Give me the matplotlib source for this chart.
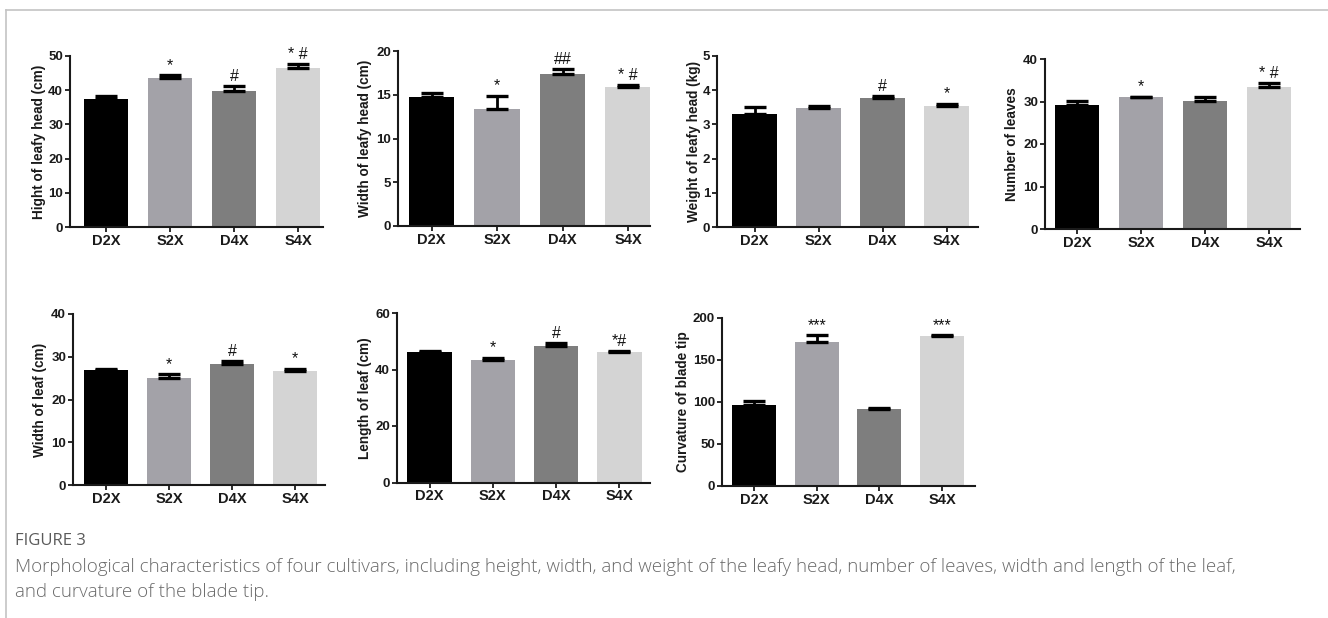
import matplotlib
matplotlib.use("Agg")
import matplotlib.pyplot as plt
from matplotlib.lines import Line2D

# ---------------- data ----------------
categories = ["D2X", "S2X", "D4X", "S4X"]

height_head = [37.3, 43.6, 39.9, 46.6]
height_head_err = [0.9, 0.7, 1.2, 1.0]
height_head_sig = ["", "*", "#", "* #"]

width_head = [14.7, 13.4, 17.4, 15.9]
width_head_err = [0.55, 1.5, 0.55, 0.25]
width_head_sig = ["", "*", "##", "* #"]

weight_head = [3.30, 3.47, 3.78, 3.53]
weight_head_err = [0.21, 0.08, 0.06, 0.08]
weight_head_sig = ["", "", "#", "*"]

num_leaves = [29.2, 31.1, 30.2, 33.3]
num_leaves_err = [0.9, 0.05, 0.9, 1.0]
num_leaves_sig = ["", "*", "", "* #"]

width_leaf = [26.9, 25.1, 28.4, 26.7]
width_leaf_err = [0.3, 0.8, 0.5, 0.5]
width_leaf_sig = ["", "*", "#", "*"]

length_leaf = [46.2, 43.3, 48.3, 46.2]
length_leaf_err = [0.35, 0.9, 1.0, 0.35]
length_leaf_sig = ["", "*", "#", "*#"]

curvature = [96.5, 171.0, 92.0, 178.0]
curvature_err = [4.5, 9.0, 0.8, 2.0]
curvature_sig = ["", "***", "", "***"]

ylabels = ["Hight of leafy head (cm)", "Width of leafy head (cm)",
           "Weight of leafy head (kg)", "Number of leaves",
           "Width of leaf (cm)", "Length of leaf (cm)", "Curvature of blade tip"]

bar_colors = ["#000000", "#a3a2a8", "#7e7e7e", "#d4d4d4"]

# ---------------- layout (pixels) ----------------
W, H = 1328, 618
plt.rcParams["font.family"] = ["Liberation Sans", "DejaVu Sans"]
fig = plt.figure(figsize=(W / 100, H / 100), dpi=100)

# (left spine x, right end x, top tick y, zero y, first bar centre, spacing,
#  ymax, ystep, y-label centre x)
panels = [
    (70, 323, 56, 227, 106, 64, 50, 10, 39, height_head, height_head_err, height_head_sig),
    (398, 650, 51, 226, 431.5, 65.5, 20, 5, 365, width_head, width_head_err, width_head_sig),
    (717, 978, 56, 227, 754.5, 64, 5, 1, 694, weight_head, weight_head_err, weight_head_sig),
    (1045, 1300, 59, 229, 1077, 64, 40, 10, 1012, num_leaves, num_leaves_err, num_leaves_sig),
    (73, 325, 314, 485, 106, 63, 40, 10, 40, width_leaf, width_leaf_err, width_leaf_sig),
    (397, 650, 313, 482.5, 429.5, 63.3, 60, 20, 365, length_leaf, length_leaf_err, length_leaf_sig),
    (722, 975, 318, 486, 754, 62.7, 200, 50, 683, curvature, curvature_err, curvature_sig),
]

for i, (L, R, T, B, c0, s, ymax, ystep, lx, vals, errs, sigs) in enumerate(panels):
    ax = fig.add_axes([L / W, 1 - B / H, (R - L) / W, (B - T) / H])
    x = list(range(len(categories)))
    ax.bar(x, vals, width=0.7, color=bar_colors, edgecolor="none", zorder=2)
    ax.errorbar(x, vals, yerr=[[0] * len(errs), errs], fmt="none", ecolor="black",
                elinewidth=2.0, capsize=8, capthick=2.4, zorder=3)
    for xi, v, e, sg in zip(x, vals, errs, sigs):
        if sg:
            ax.annotate(sg, (xi, v + e), xytext=(0, 1.5), textcoords="offset points",
                        ha="center", va="bottom", fontsize=11.5, color="#111111")
    ax.set_xlim((L - c0) / s, (R - c0) / s)
    ax.set_ylim(0, ymax)
    ax.set_yticks(range(0, ymax + 1, ystep))
    ax.set_xticks(x)
    ax.set_xticklabels(categories)
    for sp in ["top", "right"]:
        ax.spines[sp].set_visible(False)
    for sp in ["left", "bottom"]:
        ax.spines[sp].set_linewidth(1.5)
        ax.spines[sp].set_color("#1a1a1a")
    ax.tick_params(axis="both", direction="out", length=3.5, width=1.3,
                   colors="#1a1a1a", pad=1.5)
    ax.tick_params(axis="x", labelsize=10.5)
    ax.tick_params(axis="y", labelsize=9.5)
    for lab in ax.get_xticklabels() + ax.get_yticklabels():
        lab.set_fontweight("bold")
    ax.set_ylabel(ylabels[i], fontsize=9.8, fontweight="bold", color="#1a1a1a")
    ax.yaxis.label.set_verticalalignment("center")
    ax.yaxis.set_label_coords((lx - L) / (R - L), 0.5)
    ax.patch.set_alpha(0)

# frame lines
fig.add_artist(Line2D([6 / W, 1.0], [1 - 10 / H, 1 - 10 / H], color="#c4c4c4", lw=1.2))
fig.add_artist(Line2D([6 / W, 6 / W], [1 - 10 / H, 0], color="#c4c4c4", lw=1.2))

# caption
fig.text(15 / W, 1 - 541 / H, "FIGURE 3", fontsize=12, color="#5a5a5a",
         family=["Open Sans", "DejaVu Sans"], fontweight="normal", va="center", ha="left")
fig.text(15 / W, 1 - 567 / H,
         "Morphological characteristics of four cultivars, including height, width, and weight of the leafy head, number of leaves, width and length of the leaf,",
         fontsize=13.5, color="#6a6a6a", family=["Open Sans", "DejaVu Sans"],
         fontweight="light", va="center", ha="left")
fig.text(15 / W, 1 - 592 / H, "and curvature of the blade tip.",
         fontsize=13.5, color="#6a6a6a", family=["Open Sans", "DejaVu Sans"],
         fontweight="light", va="center", ha="left")

fig.savefig("out.png", dpi=100)
